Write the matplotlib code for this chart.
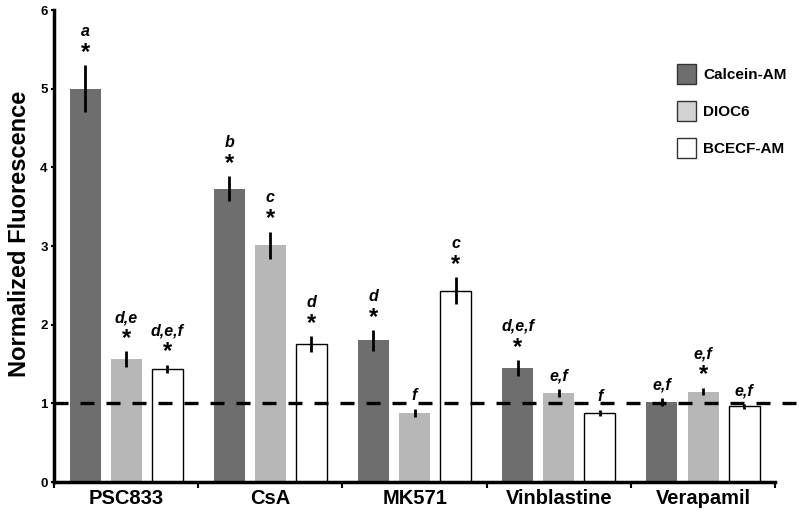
import numpy as np
import matplotlib
matplotlib.use("Agg")
import matplotlib.pyplot as plt
from matplotlib.patches import Patch

plt.rcParams['font.family'] = ['Liberation Sans', 'DejaVu Sans']

drugs = ["PSC833", "CsA", "MK571", "Vinblastine", "Verapamil"]
dyes = ["Calcein-AM", "DIOC6", "BCECF-AM"]

calcein = [5.0, 3.73, 1.80, 1.45, 1.02]
calcein_err = [0.30, 0.16, 0.13, 0.10, 0.05]
dioc6 = [1.56, 3.01, 0.88, 1.13, 1.15]
dioc6_err = [0.10, 0.17, 0.05, 0.05, 0.05]
bcecf = [1.44, 1.75, 2.43, 0.88, 0.96]
bcecf_err = [0.05, 0.10, 0.17, 0.04, 0.03]

# letters over each bar, and whether a star is shown
calcein_lab = ["a", "b", "d", "d,e,f", "e,f"]
calcein_star = [True, True, True, True, False]
dioc6_lab = ["d,e", "c", "f", "e,f", "e,f"]
dioc6_star = [True, True, False, False, True]
bcecf_lab = ["d,e,f", "d", "c", "f", "e,f"]
bcecf_star = [True, True, True, False, False]

series = [
    (calcein, calcein_err, calcein_lab, calcein_star, "#6e6e6e", "none", 0.0),
    (dioc6, dioc6_err, dioc6_lab, dioc6_star, "#b7b7b7", "none", 0.0),
    (bcecf, bcecf_err, bcecf_lab, bcecf_star, "white", "black", 1.0),
]

fig = plt.figure(figsize=(8, 5.13), dpi=100)
ax = fig.add_axes([0.0675, 0.0604, 0.9015, 0.9201])

x = np.arange(len(drugs))
w = 0.215
offs = [-0.285, 0.0, 0.285]

for (vals, errs, labs, stars, col, ec, lw), o in zip(series, offs):
    ax.bar(x + o, vals, w, color=col, edgecolor=ec, linewidth=lw, zorder=2)
    ax.errorbar(x + o, vals, yerr=errs, fmt="none", ecolor="black",
                elinewidth=2, capsize=0, zorder=4)
    for xi, v, e, lab, st in zip(x + o, vals, errs, labs, stars):
        top = v + e
        if st:
            ax.annotate("*", (xi, top), xytext=(0, 1), textcoords="offset points",
                        ha="center", va="bottom", fontsize=17, fontweight="bold")
            ax.annotate(lab, (xi, top), xytext=(0, 19), textcoords="offset points",
                        ha="center", va="bottom", fontsize=11.5, fontweight="bold",
                        style="italic")
        else:
            ax.annotate(lab, (xi, top), xytext=(0, 4), textcoords="offset points",
                        ha="center", va="bottom", fontsize=11.5, fontweight="bold",
                        style="italic")

ax.plot([-0.5, 4.645], [1, 1], color="black", linewidth=2.4,
        dashes=(4.2, 3.6), clip_on=False, zorder=5)

ax.set_xlim(-0.5, 4.5)
ax.set_ylim(0, 6)
ax.set_yticks(range(7))
ax.set_yticklabels([str(i) for i in range(7)], fontsize=9.5, fontweight="bold")
ax.set_xticks(np.arange(-0.5, 4.6, 1.0), minor=True)
ax.set_xticks(x)
ax.set_xticklabels(drugs, fontsize=14.5, fontweight="bold")
ax.tick_params(axis="x", which="major", length=0, pad=5)
ax.tick_params(axis="x", which="minor", length=4, width=1.5, direction="out")
ax.tick_params(axis="y", length=2.5, width=1.5, pad=2)

for s in ["top", "right"]:
    ax.spines[s].set_visible(False)
ax.spines["left"].set_linewidth(2.5)
ax.spines["bottom"].set_linewidth(2.5)

ax.set_ylabel("Normalized Fluorescence", fontsize=17, fontweight="bold",
              labelpad=7, y=0.525)

handles = [Patch(facecolor=c, edgecolor="#333333", linewidth=1)
           for c in ["#6e6e6e", "#d2d2d2", "white"]]
leg = ax.legend(handles, dyes, loc="upper right", bbox_to_anchor=(1.035, 0.915),
                frameon=False, handlelength=1.2, handleheight=1.6,
                labelspacing=1.15, handletextpad=0.5,
                prop={"weight": "bold", "size": 11})

fig.savefig("out.png", dpi=100)
